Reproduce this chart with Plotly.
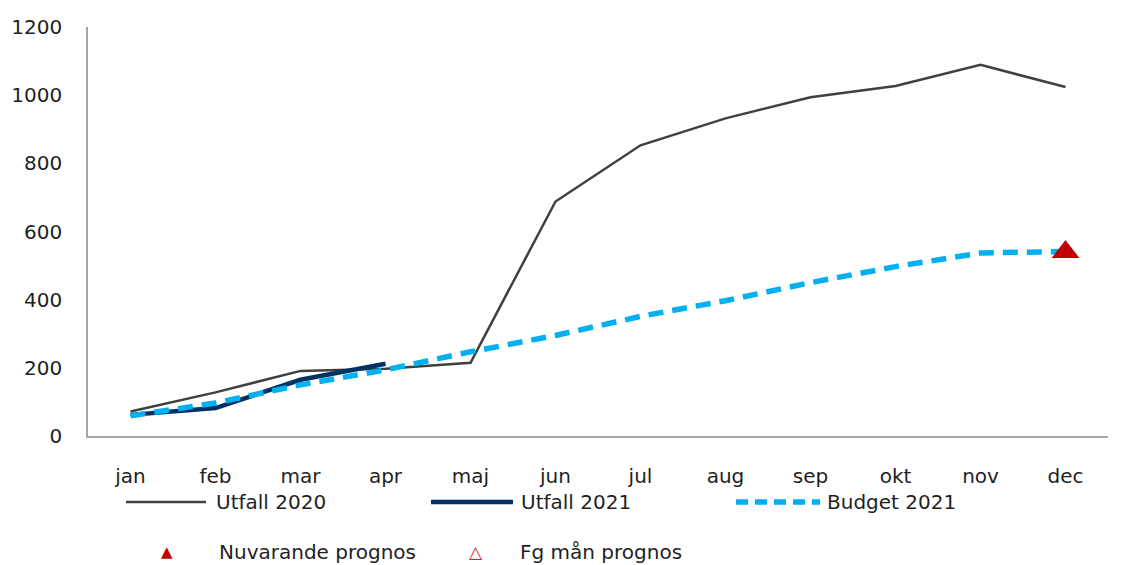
import plotly.graph_objects as go

months = ["jan", "feb", "mar", "apr", "maj", "jun", "jul", "aug", "sep", "okt", "nov", "dec"]
utfall_2020 = [72, 128, 191, 197, 215, 688, 853, 932, 994, 1027, 1089, 1024]
utfall_2021 = [62, 82, 165, 212]
budget_2021 = [59, 97, 150, 194, 247, 295, 351, 397, 450, 497, 537, 541]
nuvarande_prognos = [540]
prognos_month = ["dec"]
y_ticks = [0, 200, 400, 600, 800, 1000, 1200]

FONT = "DejaVu Sans"
TXT = "#1f1f1f"
FS = 20

fig = go.Figure()
fig.add_trace(go.Scatter(x=months, y=utfall_2020, mode="lines", name="Utfall 2020",
                         line=dict(color="#404040", width=2.5)))
fig.add_trace(go.Scatter(x=months[:len(utfall_2021)], y=utfall_2021, mode="lines", name="Utfall 2021",
                         line=dict(color="#003264", width=4.5)))
fig.add_trace(go.Scatter(x=months, y=budget_2021, mode="lines", name="Budget 2021",
                         line=dict(color="#00b0f0", width=5.5, dash="15px,9px")))
fig.add_trace(go.Scatter(x=prognos_month, y=nuvarande_prognos, mode="markers", name="Nuvarande prognos",
                         marker=dict(symbol="triangle-up", size=24, color="#c00000")))

# plot area in pixels
L, R, T, B = 88, 1108, 27, 436
W, H = R - L, B - T
def px(x):
    return (x - L) / W
def py(y):
    return (B - y) / H

shapes = []
annotations = []
# legend row 1
row1 = 502
items = [
    (126, 206, 214, "Utfall 2020", dict(color="#404040", width=2.5)),
    (431, 513, 519, "Utfall 2021", dict(color="#003264", width=4.5)),
    (736, 820, 825, "Budget 2021", dict(color="#00b0f0", width=5.5, dash="12px,7px")),
]
for x0, x1, xt, label, ln in items:
    shapes.append(dict(type="line", xref="paper", yref="paper", x0=px(x0), x1=px(x1),
                       y0=py(row1), y1=py(row1), line=ln))
    annotations.append(dict(xref="paper", yref="paper", x=px(xt), y=py(row1), text=label,
                            showarrow=False, xanchor="left", yanchor="middle",
                            font=dict(family=FONT, size=FS, color=TXT)))
row2 = 552
annotations.append(dict(xref="paper", yref="paper", x=px(167), y=py(row2), text="▲",
                        showarrow=False, xanchor="center", yanchor="middle",
                        font=dict(family=FONT, size=15, color="#c00000")))
annotations.append(dict(xref="paper", yref="paper", x=px(217), y=py(row2), text="Nuvarande prognos",
                        showarrow=False, xanchor="left", yanchor="middle",
                        font=dict(family=FONT, size=FS, color=TXT)))
annotations.append(dict(xref="paper", yref="paper", x=px(476), y=py(row2), text="△",
                        showarrow=False, xanchor="center", yanchor="middle",
                        font=dict(family=FONT, size=17, color="#e0202a")))
annotations.append(dict(xref="paper", yref="paper", x=px(518), y=py(row2), text="Fg mån prognos",
                        showarrow=False, xanchor="left", yanchor="middle",
                        font=dict(family=FONT, size=FS, color=TXT)))

fig.update_layout(
    width=1128, height=565,
    margin=dict(l=L, r=1128 - R, t=T, b=565 - B, pad=0, autoexpand=False),
    paper_bgcolor="white", plot_bgcolor="white",
    showlegend=False,
    font=dict(family=FONT, size=FS, color=TXT),
    shapes=shapes, annotations=annotations,
    xaxis=dict(type="category", categoryorder="array", categoryarray=months,
               range=[-0.5, 11.5], showgrid=False, zeroline=False, automargin=False,
               showline=True, linecolor="#a6a6a6", linewidth=1.5,
               ticks="", ticklabelstandoff=21, tickfont=dict(family=FONT, size=FS, color=TXT)),
    yaxis=dict(range=[0, 1200], tickvals=y_ticks, showgrid=False, zeroline=False, automargin=False,
               showline=True, linecolor="#a6a6a6", linewidth=1.5,
               ticks="", ticklabelstandoff=20, tickfont=dict(family=FONT, size=FS, color=TXT)),
)
fig.write_html("out.html")
